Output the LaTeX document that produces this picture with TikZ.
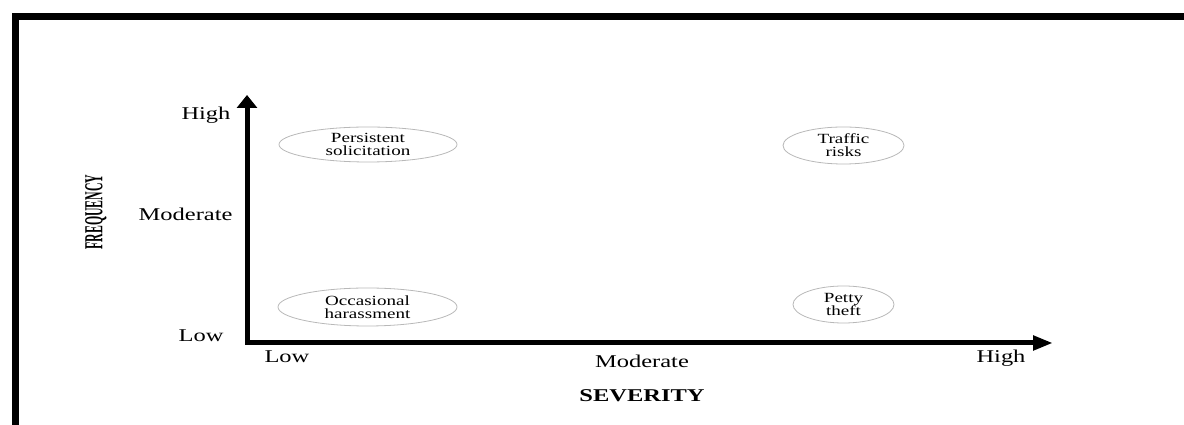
\documentclass[tikz,border=0pt]{standalone}
\usepackage{fontspec}
\usepackage{graphicx}
\setmainfont{Liberation Serif}
\usetikzlibrary{shapes.geometric,arrows.meta}
\definecolor{ellgray}{rgb}{0.72,0.72,0.72}
\newcommand{\wide}[1]{\scalebox{1.36}[1]{#1}}

\begin{document}
\begin{tikzpicture}[x=1pt, y=1pt,
	lbl/.style={font=\fontsize{18}{20}\selectfont},
	risk/.style={ellipse, draw=ellgray, line width=0.8pt, inner sep=0pt, align=center, font=\fontsize{14}{13}\selectfont}]
	\useasboundingbox (0,0) rectangle (1184,425);
	% frame
	\fill (12,0) rectangle (19,412);
	\fill (12,405) rectangle (1184,412);
	% axes
	\coordinate (o) at (247,82);
	\coordinate (ytip) at (247,330);
	\coordinate (xtip) at (1053,82);
	\draw[line width=5pt, {Triangle[length=13pt,width=20pt]}-{Triangle[length=20pt,width=14pt]}] (ytip) -- (o) -- (xtip);

	\node[lbl, anchor=base east] (fhigh) at (234,305.5) {\wide{High}};
	\node[lbl, anchor=base east] (fmod) at (236,204.5) {\wide{Moderate}};
	\node[lbl, anchor=base east] (flow) at (227,83.5) {\wide{Low}};
	\node[lbl, anchor=base west] (slow) at (261,62) {\wide{Low}};
	\node[lbl, anchor=base] (smod) at (642,57) {\wide{Moderate}};
	\node[lbl, anchor=base] (shigh) at (1001,62) {\wide{High}};
	\node[lbl, anchor=base, font=\fontsize{18}{20}\selectfont\bfseries] (sev) at (642,23) {\wide{SEVERITY}};
	\node[rotate=90, font=\fontsize{11.8}{14}\selectfont\bfseries] (freq) at (96,213) {\scalebox{1}[2.2]{FREQUENCY}};

	% risks
	\node[risk, minimum width=178pt, minimum height=35pt] (pers) at (368,280.5) {\wide{Persistent}\\\wide{solicitation}};
	\node[risk, minimum width=121pt, minimum height=37pt] (traf) at (843.5,279.5) {\wide{Traffic}\\\wide{risks}};
	\node[risk, minimum width=179pt, minimum height=38pt] (occ) at (367.5,118) {\wide{Occasional}\\\wide{harassment}};
	\node[risk, minimum width=101pt, minimum height=37pt] (petty) at (843.5,120.5) {\wide{Petty}\\\wide{theft}};
\end{tikzpicture}
\end{document}
